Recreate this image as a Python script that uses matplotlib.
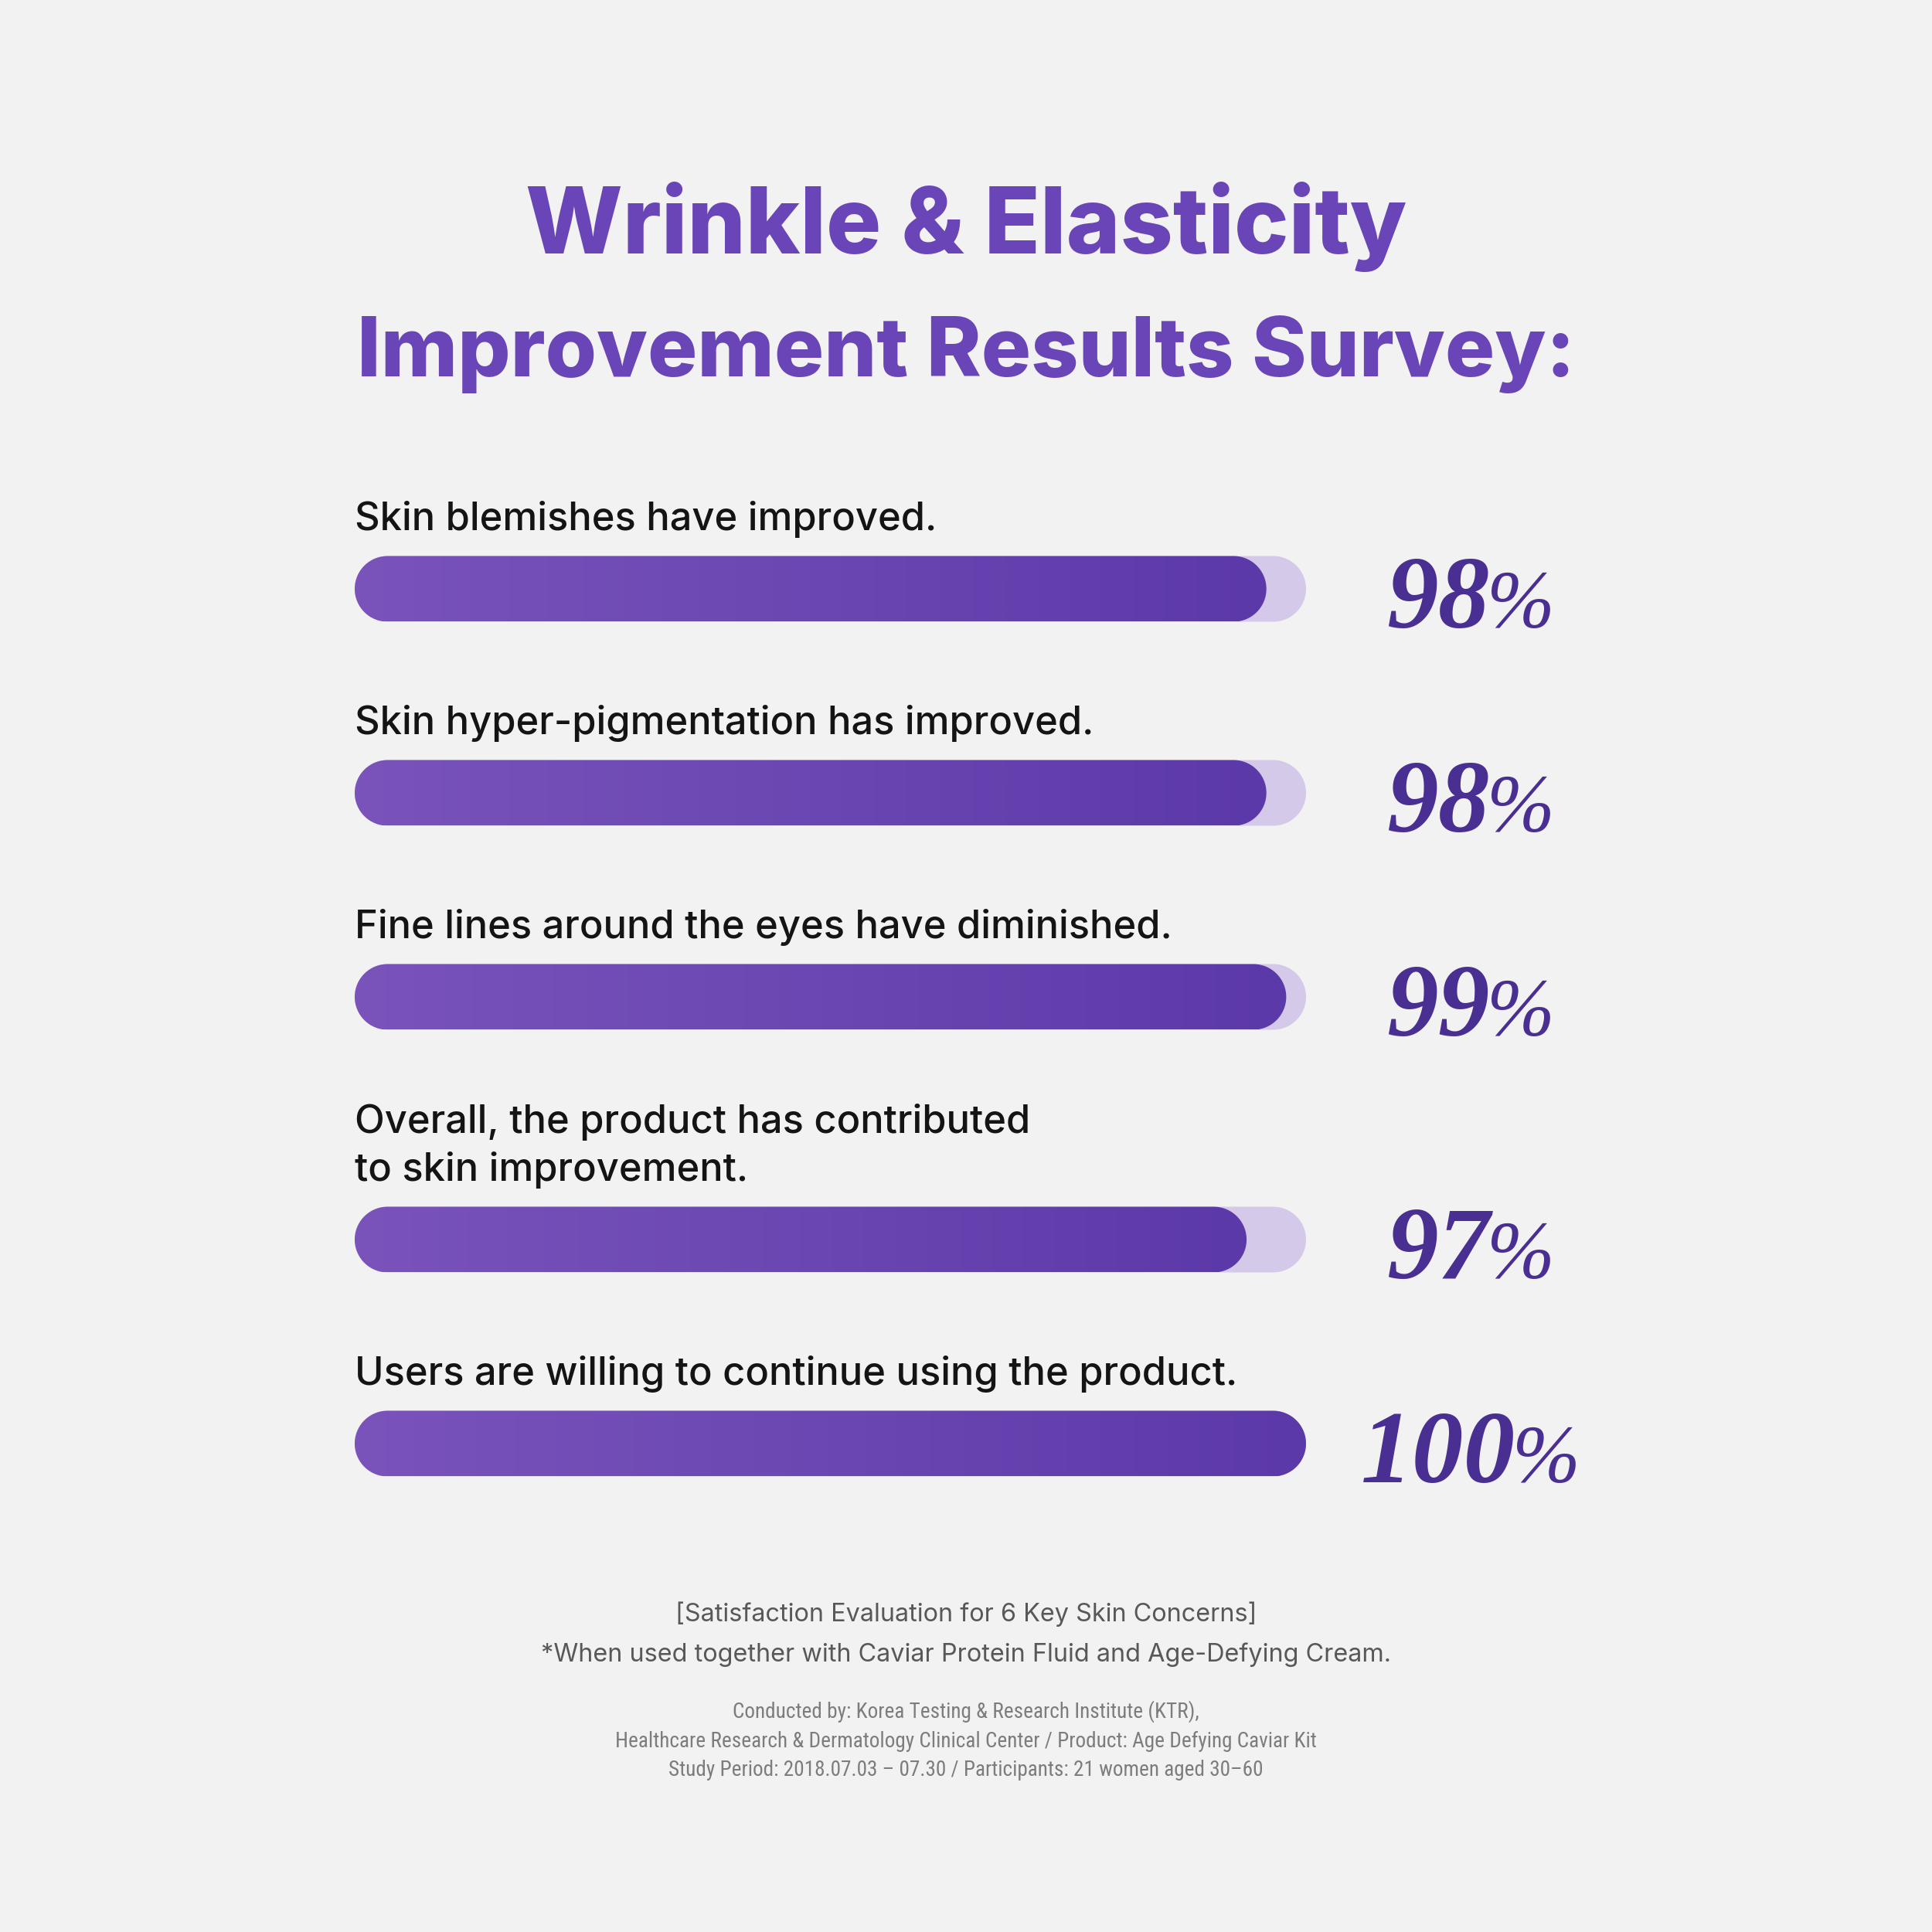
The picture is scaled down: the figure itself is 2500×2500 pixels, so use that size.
import matplotlib
matplotlib.use("Agg")
import matplotlib.pyplot as plt
import numpy as np
from matplotlib.patches import Polygon
from matplotlib.colors import LinearSegmentedColormap
from matplotlib import font_manager as fm

# ---------------- data ----------------
title_lines = ["Wrinkle & Elasticity", "Improvement Results Survey:"]
labels = [
    "Skin blemishes have improved.",
    "Skin hyper-pigmentation has improved.",
    "Fine lines around the eyes have diminished.",
    "Overall, the product has contributed\nto skin improvement.",
    "Users are willing to continue using the product.",
]
values = [98, 98, 99, 97, 100]
note_lines = [
    "[Satisfaction Evaluation for 6 Key Skin Concerns]",
    "*When used together with Caviar Protein Fluid and Age-Defying Cream.",
]
source_lines = [
    "Conducted by: Korea Testing & Research Institute (KTR),",
    "Healthcare Research & Dermatology Clinical Center / Product: Age Defying Caviar Kit",
    "Study Period: 2018.07.03 \u2013 07.30 / Participants: 21 women aged 30\u201360",
]
axis_min, axis_max = 52, 100

# ---------------- fonts ----------------
def pick(cands, **kw):
    for c in cands:
        try:
            fm.findfont(fm.FontProperties(family=c, **kw), fallback_to_default=False)
            return c
        except Exception:
            pass
    return "DejaVu Sans"

sans = pick(["Inter", "Roboto", "Open Sans", "Lato", "DejaVu Sans"])
narrow = pick(["Liberation Sans Narrow", "Roboto Condensed", "Inter"])
serif = pick(["Liberation Serif", "DejaVu Serif"])

# ---------------- figure ----------------
W = 2500
BG = "#f2f2f2"
fig = plt.figure(figsize=(25, 25), dpi=100, facecolor=BG)
ax0 = fig.add_axes([0, 0, 1, 1])
ax0.set_xlim(0, W)
ax0.set_ylim(W, 0)
ax0.axis("off")
renderer = fig.canvas.get_renderer()

def width_of(t):
    return t.get_window_extent(renderer).width

def fit_size(text, target_w, base=50, **kw):
    t = ax0.text(0, 0, text, fontsize=base, **kw)
    w = width_of(t)
    t.remove()
    return base * target_w / w

TITLE_C = "#6945b8"
for line, yb, tw in zip(title_lines, [328, 487], [1140, 1576]):
    fs = fit_size(line, tw, family=sans, fontweight="heavy")
    ax0.text(W / 2, yb, line, ha="center", va="baseline", fontsize=fs,
             family=sans, fontweight="heavy", color=TITLE_C)

# ---------------- bars ----------------
bar_left, bar_right, bar_h = 459, 1690, 85
ax = fig.add_axes([bar_left / W, 0, (bar_right - bar_left) / W, 1])
ax.set_xlim(axis_min, axis_max)
ax.set_ylim(W, 0)
ax.axis("off")
px_per_x = (bar_right - bar_left) / (axis_max - axis_min)
radius = bar_h / 2
rx = radius / px_per_x

def pill(x0, x1, cy, h):
    r = h / 2
    t1 = np.linspace(np.pi / 2, 3 * np.pi / 2, 60)
    t2 = np.linspace(-np.pi / 2, np.pi / 2, 60)
    left = np.column_stack([x0 + rx + rx * np.cos(t1), cy - r * np.sin(t1)])
    right = np.column_stack([x1 - rx + rx * np.cos(t2), cy - r * np.sin(t2)])
    return np.vstack([left, right])

cmap = LinearSegmentedColormap.from_list("g", ["#7a53bb", "#6a47b2", "#5c39a8"])
grad = np.linspace(0, 1, 256).reshape(1, -1)

label_fs = fit_size(labels[0], 754, family=sans, fontweight="medium")

centers = []
c = 762
for i, lab in enumerate(labels):
    if i > 0:
        c += 264 + 50 * (lab.count("\n"))
    centers.append(c)

for lab, v, c in zip(labels, values, centers):
    top = c - bar_h / 2
    track = Polygon(pill(axis_min, axis_max, c, bar_h), closed=True,
                    facecolor="#d4c9e8", edgecolor="none", zorder=1)
    ax.add_patch(track)
    fill = Polygon(pill(axis_min, v, c, bar_h), closed=True,
                   facecolor="none", edgecolor="none", zorder=2)
    ax.add_patch(fill)
    im = ax.imshow(grad, extent=(axis_min, v, top + bar_h, top), aspect="auto",
                   cmap=cmap, interpolation="bicubic", zorder=3)
    im.set_clip_path(fill)

    lines = lab.split("\n")
    base = top - 33
    for j, ln in enumerate(reversed(lines)):
        ax.text(axis_min, base - 63 * j, ln, ha="left", va="baseline",
                fontsize=label_fs, family=sans, fontweight="medium", color="#141414")

    # percentage label
    yb = c + 50
    t1 = ax0.text(0, yb, f"{v}", ha="left", va="baseline", fontsize=96,
                  family=serif, fontweight="bold", style="italic", color="#4a2f92")
    t2 = ax0.text(0, yb, "%", ha="left", va="baseline", fontsize=76,
                  family=serif, fontweight="normal", style="italic", color="#4a2f92")
    w1, w2 = width_of(t1), width_of(t2)
    x0 = 1905 - (w1 + w2) / 2
    t1.set_x(x0)
    t2.set_x(x0 + w1 - 4)

ax.set_xlim(axis_min, axis_max)
ax.set_ylim(W, 0)

# ---------------- footnotes ----------------
note_fs = fit_size(note_lines[1], 1100, family=sans)
for line, yb in zip(note_lines, [2098, 2150]):
    ax0.text(W / 2, yb, line, ha="center", va="baseline", fontsize=note_fs,
             family=sans, color="#585858")

src_fs = fit_size(source_lines[1], 909, family=narrow)
for line, yb in zip(source_lines, [2223, 2261, 2298]):
    ax0.text(W / 2, yb, line, ha="center", va="baseline", fontsize=src_fs,
             family=narrow, color="#7d7d7d")

fig.savefig("out.png", dpi=100, facecolor=BG)
